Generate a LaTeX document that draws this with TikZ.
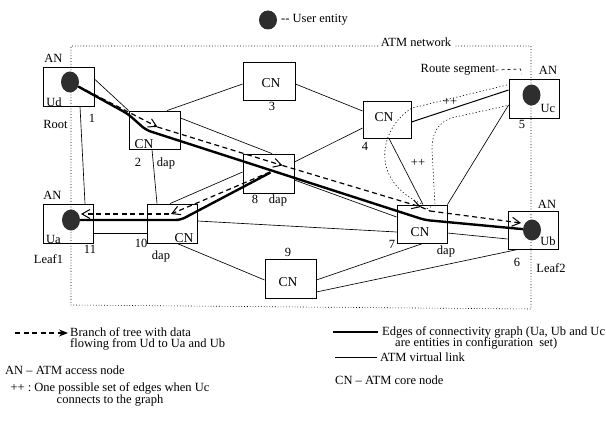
\documentclass[tikz,border=0pt]{standalone}
\usepackage{fontspec}
\setmainfont{Liberation Serif}
\usetikzlibrary{arrows.meta,calc,shapes.geometric}
\begin{document}
\begin{tikzpicture}[x=1pt,y=-1pt,
  box/.style={draw, line width=0.85pt, minimum width=50pt, minimum height=38.5pt, inner sep=0pt},
  ball/.style={ellipse, fill=black!82, minimum width=18pt, minimum height=21pt, inner sep=0pt},
  lbl/.style={font=\fontsize{12.5}{12.5}\selectfont, inner sep=0pt},
  cnl/.style={font=\fontsize{13.5}{13.5}\selectfont, inner sep=0pt},
  leg/.style={font=\fontsize{12.5}{11.5}\selectfont, inner sep=0pt},
  link/.style={line width=0.65pt},
  cgraph/.style={line width=2.4pt, rounded corners=5pt},
  tree/.style={line width=1.2pt, dash pattern=on 5pt off 3.5pt, -{Straight Barb[length=8pt,width=9pt,line width=1pt]}},
  route/.style={line width=0.6pt, dash pattern=on 1.2pt off 2.2pt},
  border/.style={line width=0.6pt, dash pattern=on 0.8pt off 2pt}
]
\useasboundingbox (0,0) rectangle (606,436);

% network border
\coordinate (nw) at (71,46);
\coordinate (sw) at (71,305);
\coordinate (se) at (531,309);
\coordinate (ne) at (531,46);
\coordinate (tl) at (378,46);
\coordinate (tr) at (455,46);
\node[lbl] (atm) at (416,42) {ATM network};
\draw[border] (tl) -- (nw) -- (sw) -- (se) -- (ne) -- (tr);

% boxes
\node[box, minimum width=51pt, minimum height=39pt] (b1) at (68.5,86.5) {};
\node[box, minimum width=51pt, minimum height=38pt] (b2) at (154.5,130) {};
\node[box, minimum width=52pt, minimum height=38pt] (b3) at (269,81) {};
\node[box, minimum width=51pt, minimum height=39pt] (b8) at (268.5,173.5) {};
\node[box, minimum width=48pt, minimum height=37pt] (b4) at (387,119.5) {};
\node[box, minimum width=50pt, minimum height=39pt] (b5) at (534,98.5) {};
\node[box, minimum width=50pt, minimum height=38pt] (b7) at (422,224) {};
\node[box, minimum width=50pt, minimum height=38pt] (b6) at (533,230) {};
\node[box, minimum width=50pt, minimum height=39pt] (b11) at (68,223.5) {};
\node[box, minimum width=50pt, minimum height=39pt] (b10) at (172,223.5) {};
\node[box, minimum width=51pt, minimum height=39pt] (b9) at (290.5,278.5) {};

% user entities
\node[ball] (ud) at (70,82) {};
\node[ball] (ua) at (71,220) {};
\node[ball] (ub) at (532,230) {};
\node[ball] (uc) at (531.5,95) {};
\node[ball, minimum width=18pt, minimum height=19pt] (ue) at (268,20) {};
\node[lbl, anchor=west] (uet) at (281,20) {-{}- User entity};

% virtual links
\draw[link] ($(b1.east)+(0,-7.5)$) -- (b2.north west);
\draw[link] ($(b1.south)+(11.5,0)$) -- ($(b11.north)+(17,0)$);
\draw[link] ($(b2.north)+(12.5,0)$) -- ($(b3.west)+(0,3)$);
\draw[link] ($(b2.south)+(-2.5,0)$) -- ($(b10.north)+(-15,0)$);
\draw[link] ($(b2.east)+(0,-12)$) -- ($(b8.north)+(3.5,0)$);
\draw[link] ($(b3.east)+(0,3)$) -- ($(b4.west)+(0,-8.5)$);
\draw[link] ($(b8.east)+(0,-11.5)$) -- ($(b4.west)+(0,8.5)$);
\draw[link] ($(b8.east)+(0,6.5)$) -- ($(b7.west)+(0,-7)$);
\draw[link] ($(b10.north)+(-2,0)$) -- ($(b8.west)+(0,-1.5)$);
\draw[link] ($(b11.east)+(0,9.5)$) -- ($(b10.west)+(0,9.5)$);
\draw[link] ($(b10.east)+(0,-2.5)$) -- ($(b7.west)+(0,8)$);
\draw[link] ($(b10.south)+(5,0)$) -- ($(b9.west)+(0,1.5)$);
\draw[link] ($(b9.east)+(0,1.5)$) -- ($(b7.south)+(1,0)$);
\draw[link] ($(b9.east)+(0,13.5)$) -- ($(b6.south)+(-15,0)$);
\draw[link] ($(b4.south)+(2,0)$) -- ($(b7.north)+(1,0)$);
\draw[link] ($(b5.west)+(0,6.5)$) -- (b7.north east);
\draw[link, line width=1pt] ($(b4.east)+(0,2.5)$) -- ($(b5.west)+(0,-8.5)$);
\draw[link] ($(b7.east)+(0,9)$) -- ($(b6.west)+(0,9)$);

% connectivity graph edges
\draw[cgraph] (ud) -- ($(b2.center)+(-26.5,-16)$) -- ($(b2.center)+(-8.5,0)$) -- ($(b7.center)+(3,-4)$) -- (ub);
\draw[cgraph] (ua) -- ($(b10.center)+(8.5,-3.5)$) -- ($(b8.center)+(2,-1)$);

% tree branches
\draw[tree] (ud) -- ($(b2.center)+(3,-3)$);
\draw[tree] ($(b2.center)+(3,-3)$) -- ($(b8.center)+(14,-8)$);
\draw[tree] ($(b8.center)+(14,-8)$) -- ($(b7.center)+(-1,-17)$);
\draw[tree] ($(b7.center)+(8,-13)$) -- ($(ub.center)+(-11,-7)$);
\draw[line width=1.2pt, dash pattern=on 5pt off 3.5pt] ($(b7.center)+(-1,-17)$) -- ($(b7.center)+(8,-13)$);
\draw[tree] ($(b8.center)+(1.5,-1.5)$) -- ($(b10.center)+(-1,-9.5)$);
\draw[tree] ($(b10.center)+(-3,-9.5)$) -- ($(ua.center)+(10,-6)$);

% route segments
\node[lbl] (rs) at (458,70) {Route segment};
\draw[line width=0.6pt, dash pattern=on 3pt off 3pt] (rs.east) -- ++(25,-1) -- ++(1,5);
\draw[route] ($(b5.center)+(-27,-13.5)$) -- ($(b4.center)+(25,-11.5)$)
  .. controls ($(b4.center)+(-7,8)$) and ($(b7.center)+(-54,-44)$) .. ($(b7.center)+(0,-20)$);
\draw[route] ($(b5.center)+(-24,6.5)$) -- ($(b5.center)+(-79,18.5)$)
  .. controls ($(b5.center)+(-98,23.5)$) and ($(b7.center)+(10,-89)$) .. ($(b7.center)+(10,-74)$)
  -- ($(b7.center)+(13,-19)$) -- ($(b7.center)+(4,-15)$);
\node[lbl] (pp1) at (450,102) {++};
\node[lbl] (pp2) at (418,163) {++};

% labels
\node[lbl] (an1) at (53.5,58) {AN};
\node[lbl] (tud) at (54,102) {Ud};
\node[lbl] (root) at (55.5,124) {Root};
\node[lbl] (n1) at (92,118) {1};
\node[cnl] (cn2) at (144,144) {CN};
\node[lbl] (n2) at (138,162) {2};
\node[lbl] (d2) at (166,163) {dap};
\node[cnl] (cn3) at (271,83.5) {CN};
\node[lbl] (n3) at (272,106.5) {3};
\node[lbl] (n8) at (255,199) {8};
\node[lbl] (d8) at (278,200) {dap};
\node[cnl] (cn4) at (384,117.5) {CN};
\node[lbl] (n4) at (365,146) {4};
\node[lbl] (an5) at (548,70) {AN};
\node[lbl] (tuc) at (548,108) {Uc};
\node[lbl] (n5) at (522,124) {5};
\node[cnl] (cn7) at (420,232.5) {CN};
\node[lbl] (n7) at (392,244) {7};
\node[lbl] (d7) at (446,251) {dap};
\node[lbl] (an6) at (547,204) {AN};
\node[lbl] (tub) at (548,241) {Ub};
\node[lbl] (n6) at (517,262) {6};
\node[lbl] (leaf2) at (551,268) {Leaf2};
\node[lbl] (an11) at (52.5,195) {AN};
\node[lbl] (tua) at (53.5,239) {Ua};
\node[lbl] (n11) at (90,249) {11};
\node[lbl] (leaf1) at (48.5,259) {Leaf1};
\node[cnl] (cn10) at (184,238) {CN};
\node[lbl] (n10) at (141,243) {10};
\node[lbl] (d10) at (161,256) {dap};
\node[cnl] (cn9) at (288,282.5) {CN};
\node[lbl] (n9) at (288,252) {9};

% legend
\coordinate (la1) at (15,333);
\coordinate (la2) at (68,333);
\draw[line width=1.2pt, dash pattern=on 5pt off 3.5pt, -{Stealth[length=9pt,width=7pt]}] (la1) -- (la2);
\node[leg, anchor=west, align=left] (lt1) at (70,339) {Branch of tree with data\\flowing from Ud to Ua and Ub};
\node[leg, anchor=west] (lt2) at (5,370) {AN \textendash\ ATM access node};
\node[leg, align=center] (lt3) at (110,394.5) {++ :\ One possible set of edges when Uc\\connects to the graph};
\coordinate (lb1) at (333,332);
\coordinate (lb2) at (378,332);
\draw[line width=2.4pt] (lb1) -- (lb2);
\node[leg, anchor=west] (lt4) at (382,332) {Edges of connectivity graph (Ua, Ub and Uc};
\node[leg, anchor=west] (lt5) at (395,343.5) {are entities in configuration\ \ set)};
\coordinate (lc1) at (335,357);
\coordinate (lc2) at (377,357);
\draw[link] (lc1) -- (lc2);
\node[leg, anchor=west] (lt6) at (380,357) {ATM virtual link};
\node[leg, anchor=west] (lt7) at (335,380) {CN \textendash\ ATM core node};
\end{tikzpicture}
\end{document}
